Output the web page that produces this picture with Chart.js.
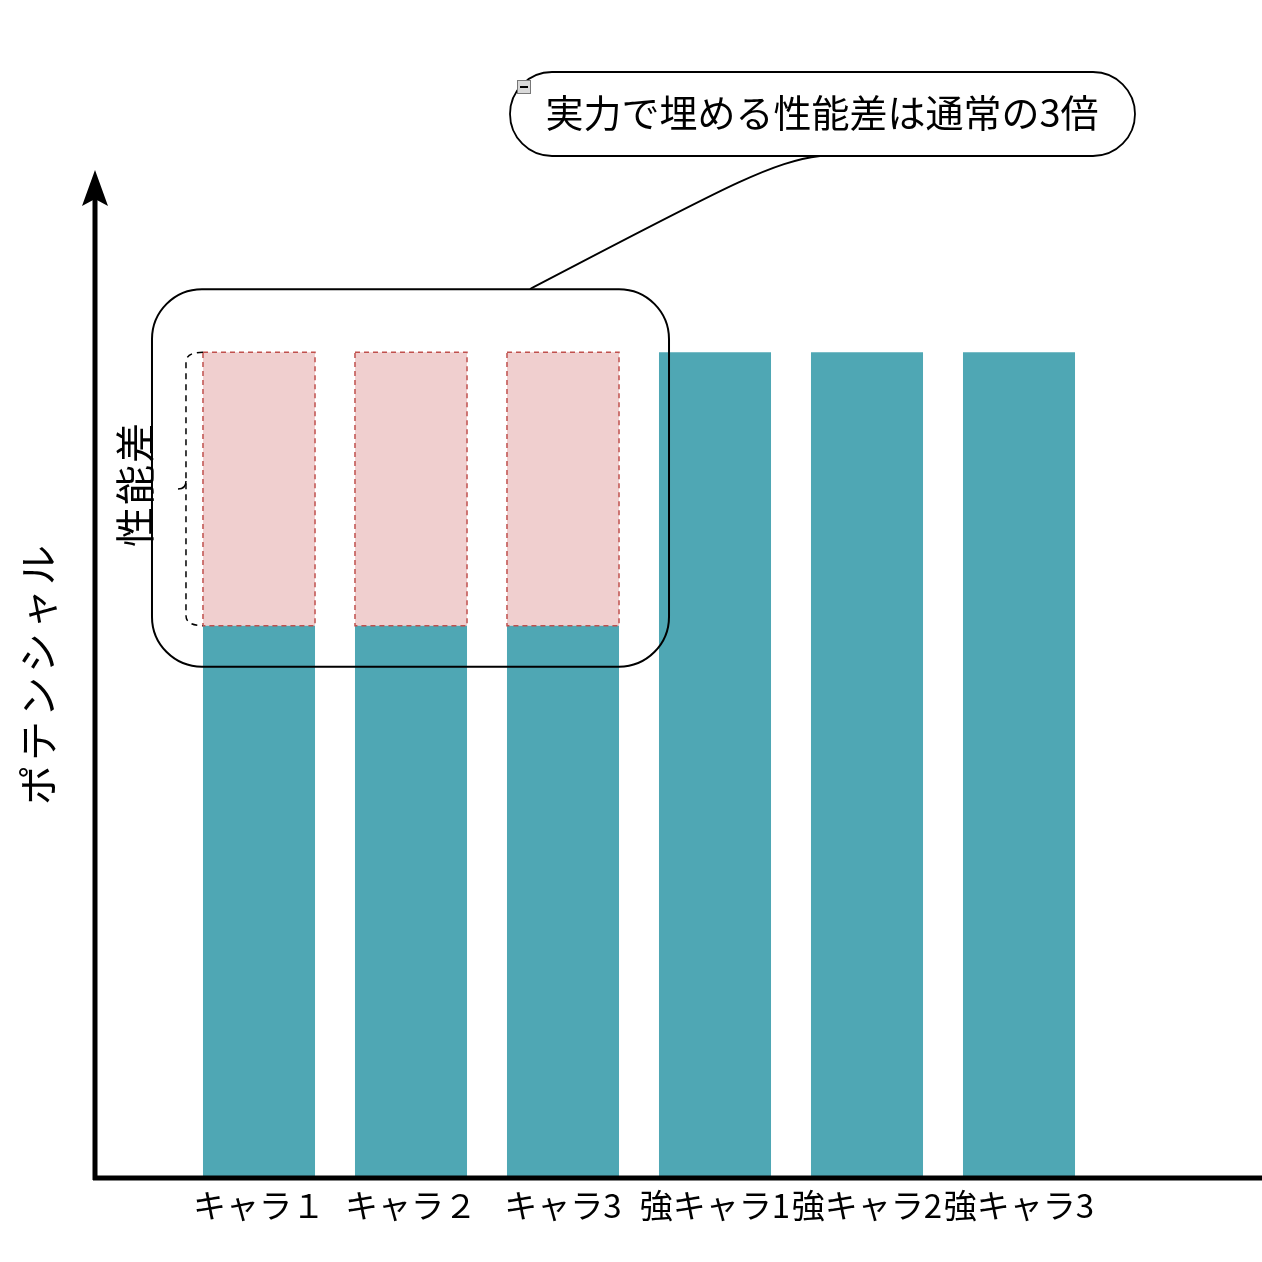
<!DOCTYPE html>
<html>
<head>
<meta charset="utf-8">
<script src="https://cdn.jsdelivr.net/npm/chart.js@4/dist/chart.umd.min.js"></script>
<style>
  html, body { margin: 0; padding: 0; background: #fff; }
  #wrap { width: 1262px; height: 1262px; position: relative; }
</style>
</head>
<body>
<div id="wrap"><canvas id="potential-chart"></canvas></div>
<script>
const FONT = '"Noto Sans CJK JP", "Noto Sans", sans-serif';

// data
const charaLabels = ['キャラ１', 'キャラ２', 'キャラ3', '強キャラ1', '強キャラ2', '強キャラ3'];
const basePotential = [55, 55, 55, 82.3, 82.3, 82.3];
const gapPotential = [27.3, 27.3, 27.3, 0, 0, 0];
const axisTitle = 'ポテンシャル';
const gapLabel = '性能差';
const calloutText = '実力で埋める性能差は通常の3倍';

function roundRect(ctx, x, y, w, h, r) {
  ctx.beginPath();
  ctx.moveTo(x + r, y);
  ctx.lineTo(x + w - r, y);
  ctx.arcTo(x + w, y, x + w, y + r, r);
  ctx.lineTo(x + w, y + h - r);
  ctx.arcTo(x + w, y + h, x + w - r, y + h, r);
  ctx.lineTo(x + r, y + h);
  ctx.arcTo(x, y + h, x, y + h - r, r);
  ctx.lineTo(x, y + r);
  ctx.arcTo(x, y, x + r, y, r);
  ctx.closePath();
}

const decorations = {
  id: 'decorations',
  afterDatasetsDraw(chart) {
    const ctx = chart.ctx;
    const gapMeta = chart.getDatasetMeta(1);

    // dashed outline round the gap bars
    ctx.save();
    ctx.strokeStyle = '#C0504D';
    ctx.lineWidth = 1.5;
    ctx.setLineDash([5, 4]);
    gapMeta.data.forEach(function (bar, i) {
      if (!gapPotential[i]) return;
      const p = bar.getProps(['x', 'y', 'base', 'width'], true);
      ctx.strokeRect(p.x - p.width / 2, p.y, p.width, p.base - p.y);
    });
    ctx.restore();
  },
  afterDraw(chart) {
    const ctx = chart.ctx;
    const gapMeta = chart.getDatasetMeta(1);
    const first = gapMeta.data[0].getProps(['x', 'y', 'base', 'width'], true);
    const third = gapMeta.data[2].getProps(['x', 'y', 'base', 'width'], true);
    const left = first.x - first.width / 2;
    const right = third.x + third.width / 2;

    ctx.save();
    // axes
    const axisX = 95, axisY = 1178;
    ctx.strokeStyle = '#000';
    ctx.fillStyle = '#000';
    ctx.lineWidth = 5;
    ctx.beginPath();
    ctx.moveTo(axisX, axisY + 2);
    ctx.lineTo(axisX, 195);
    ctx.moveTo(axisX - 2, axisY);
    ctx.lineTo(chart.width, axisY);
    ctx.stroke();
    ctx.beginPath();
    ctx.moveTo(axisX, 170);
    ctx.lineTo(axisX - 13, 206);
    ctx.lineTo(axisX, 199);
    ctx.lineTo(axisX + 13, 206);
    ctx.closePath();
    ctx.fill();

    // y axis title
    ctx.font = '40px ' + FONT;
    ctx.textAlign = 'center';
    ctx.textBaseline = 'middle';
    ctx.save();
    ctx.translate(38, 675);
    ctx.rotate(-Math.PI / 2);
    ctx.letterSpacing = '4px';
    ctx.fillText(axisTitle, 2, 0);
    ctx.restore();

    // callout frame round the first three bars
    ctx.lineWidth = 2;
    roundRect(ctx, left - 51, first.y - 63, right - left + 101, first.base - first.y + 104, 50);
    ctx.stroke();

    // dashed bracket
    const bx = left - 17, mid = (first.y + first.base) / 2;
    ctx.lineWidth = 1.5;
    ctx.setLineDash([6, 5]);
    ctx.beginPath();
    ctx.moveTo(left, first.y);
    ctx.quadraticCurveTo(bx, first.y, bx, first.y + 10);
    ctx.lineTo(bx, first.base - 10);
    ctx.quadraticCurveTo(bx, first.base, left, first.base);
    ctx.stroke();
    ctx.setLineDash([]);
    ctx.beginPath();
    ctx.moveTo(bx, mid - 8);
    ctx.quadraticCurveTo(bx, mid, bx - 8, mid);
    ctx.stroke();

    // gap label
    ctx.font = '40px ' + FONT;
    ctx.save();
    ctx.translate(135, mid - 4);
    ctx.rotate(-Math.PI / 2);
    ctx.letterSpacing = '2px';
    ctx.fillText(gapLabel, 1, 0);
    ctx.restore();

    // speech bubble
    ctx.lineWidth = 1.8;
    ctx.fillStyle = '#fff';
    roundRect(ctx, 510, 72, 625, 84, 42);
    ctx.fill();
    ctx.stroke();
    ctx.beginPath();
    ctx.moveTo(820, 156);
    ctx.bezierCurveTo(770, 162, 720, 190, 530, 289);
    ctx.stroke();
    ctx.fillStyle = '#000';
    ctx.font = '38px ' + FONT;
    ctx.fillText(calloutText, 822, 113);

    // small collapse icon
    ctx.fillStyle = '#d9d9d9';
    ctx.fillRect(517, 80, 14, 14);
    ctx.strokeStyle = '#777';
    ctx.lineWidth = 1;
    ctx.strokeRect(517.5, 80.5, 13, 13);
    ctx.fillStyle = '#000';
    ctx.fillRect(520, 86, 8, 2);
    ctx.restore();
  }
};

new Chart(document.getElementById('potential-chart'), {
  type: 'bar',
  data: {
    labels: charaLabels,
    datasets: [{
      label: 'base',
      data: basePotential,
      backgroundColor: '#4FA7B4',
      borderWidth: 0
    },
    {
      label: 'gap',
      data: gapPotential,
      backgroundColor: '#F0CFCF',
      borderWidth: 0
    }]
  },
  options: {
    responsive: true,
    maintainAspectRatio: false,
    animation: false,
    layout: { padding: { left: 183, right: 167, top: 175, bottom: 36 } },
    datasets: { bar: { barPercentage: 0.737, categoryPercentage: 1 } },
    plugins: { legend: { display: false }, tooltip: { enabled: false } },
    scales: {
      x: {
        stacked: true,
        grid: { display: false },
        border: { display: false },
        ticks: { color: '#000', padding: 1, maxRotation: 0, autoSkip: false, font: { family: FONT, size: 33 } }
      },
      y: {
        stacked: true,
        display: false,
        min: 0,
        max: 100
      }
    }
  },
  plugins: [decorations]
});
</script>
</body>
</html>
